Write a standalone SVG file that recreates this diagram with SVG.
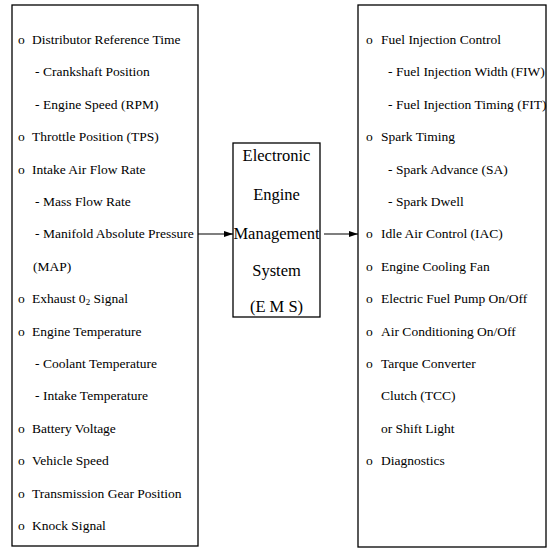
<svg xmlns="http://www.w3.org/2000/svg" width="552" height="550" viewBox="0 0 552 550">
<style>
.box{fill:#fff;stroke:#000;stroke-width:1.3}
.t{font-family:"Liberation Serif","Times New Roman",serif;font-size:13.5px;fill:#000}
.m{font-family:"Liberation Serif","Times New Roman",serif;font-size:16.5px;fill:#000;text-anchor:middle}
.c{stroke:#000;stroke-width:1.2;fill:none}
</style>
<defs>
<marker id="ah" markerWidth="10" markerHeight="8" refX="9" refY="4" orient="auto" markerUnits="userSpaceOnUse">
<path d="M0,1 L9,4 L0,7 Z" fill="#000"/>
</marker>
</defs>
<rect width="552" height="550" fill="#fff"/>
<g id="inputs">
<rect class="box" x="12" y="5" width="186" height="541"/>
<text class="t" y="44"><tspan x="18">o</tspan><tspan x="32">Distributor Reference Time</tspan></text>
<text class="t" y="76.4"><tspan x="35">-</tspan><tspan x="43">Crankshaft Position</tspan></text>
<text class="t" y="108.8"><tspan x="35">-</tspan><tspan x="43">Engine Speed (RPM)</tspan></text>
<text class="t" y="141.2"><tspan x="18">o</tspan><tspan x="32">Throttle Position (TPS)</tspan></text>
<text class="t" y="173.6"><tspan x="18">o</tspan><tspan x="32">Intake Air Flow Rate</tspan></text>
<text class="t" y="206"><tspan x="35">-</tspan><tspan x="43">Mass Flow Rate</tspan></text>
<text class="t" y="238.4"><tspan x="35">-</tspan><tspan x="43">Manifold Absolute Pressure</tspan></text>
<text class="t" y="270.8"><tspan x="33">(MAP)</tspan></text>
<text class="t" y="303.2"><tspan x="18">o</tspan><tspan x="32">Exhaust  0</tspan><tspan font-size="9" dy="2">2</tspan><tspan dy="-2"> Signal</tspan></text>
<text class="t" y="335.6"><tspan x="18">o</tspan><tspan x="32">Engine Temperature</tspan></text>
<text class="t" y="368"><tspan x="35">-</tspan><tspan x="43">Coolant Temperature</tspan></text>
<text class="t" y="400.4"><tspan x="35">-</tspan><tspan x="43">Intake Temperature</tspan></text>
<text class="t" y="432.8"><tspan x="18">o</tspan><tspan x="32">Battery Voltage</tspan></text>
<text class="t" y="465.2"><tspan x="18">o</tspan><tspan x="32">Vehicle Speed</tspan></text>
<text class="t" y="497.6"><tspan x="18">o</tspan><tspan x="32">Transmission Gear Position</tspan></text>
<text class="t" y="530"><tspan x="18">o</tspan><tspan x="32">Knock  Signal</tspan></text>
</g>
<g id="ems">
<rect class="box" x="233" y="143" width="87" height="174"/>
<text class="m" x="276.5" y="161">Electronic</text>
<text class="m" x="276.5" y="200">Engine</text>
<text class="m" x="276.5" y="239">Management</text>
<text class="m" x="276.5" y="276">System</text>
<text class="m" x="276.5" y="312">(E M S)</text>
</g>
<g id="outputs">
<rect class="box" x="358" y="5" width="188" height="542"/>
<text class="t" y="44"><tspan x="366">o</tspan><tspan x="381">Fuel Injection Control</tspan></text>
<text class="t" y="76.4"><tspan x="388">-</tspan><tspan x="396">Fuel Injection Width (FIW)</tspan></text>
<text class="t" y="108.8"><tspan x="388">-</tspan><tspan x="396">Fuel Injection Timing (FIT)</tspan></text>
<text class="t" y="141.2"><tspan x="366">o</tspan><tspan x="381">Spark Timing</tspan></text>
<text class="t" y="173.6"><tspan x="388">-</tspan><tspan x="396">Spark Advance (SA)</tspan></text>
<text class="t" y="206"><tspan x="388">-</tspan><tspan x="396">Spark Dwell</tspan></text>
<text class="t" y="238.4"><tspan x="366">o</tspan><tspan x="381">Idle Air Control (IAC)</tspan></text>
<text class="t" y="270.8"><tspan x="366">o</tspan><tspan x="381">Engine Cooling Fan</tspan></text>
<text class="t" y="303.2"><tspan x="366">o</tspan><tspan x="381">Electric Fuel Pump On/Off</tspan></text>
<text class="t" y="335.6"><tspan x="366">o</tspan><tspan x="381">Air Conditioning  On/Off</tspan></text>
<text class="t" y="368"><tspan x="366">o</tspan><tspan x="381">Tarque Converter</tspan></text>
<text class="t" y="400.4"><tspan x="381">Clutch  (TCC)</tspan></text>
<text class="t" y="432.8"><tspan x="381">or Shift Light</tspan></text>
<text class="t" y="465.2"><tspan x="366">o</tspan><tspan x="381">Diagnostics</tspan></text>
</g>
<g id="connectors">
<line class="c" x1="198" y1="234" x2="233" y2="234" marker-end="url(#ah)"/>
<line class="c" x1="324" y1="234" x2="358" y2="234" marker-end="url(#ah)"/>
</g>
</svg>
